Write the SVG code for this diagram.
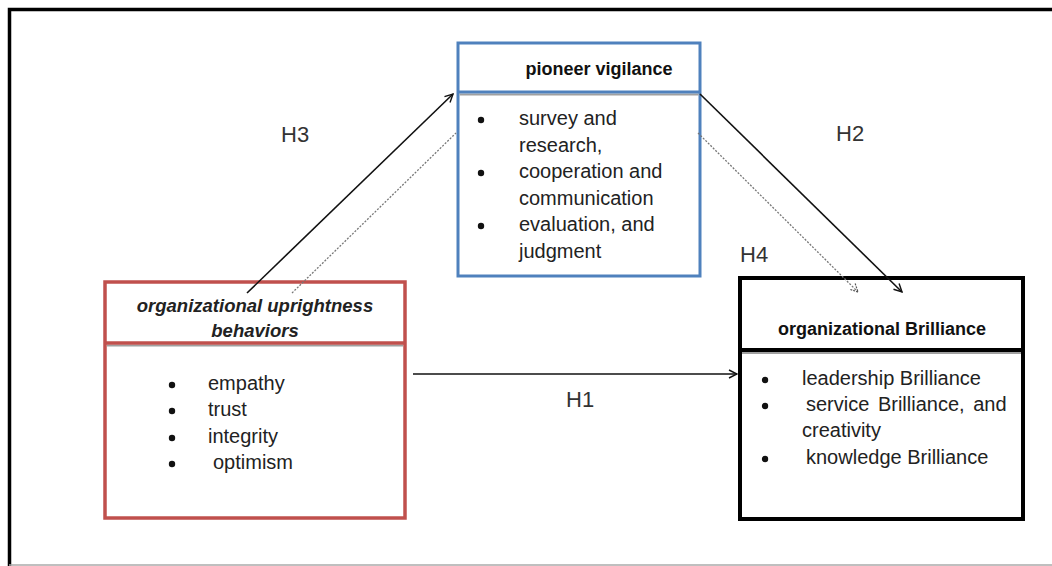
<svg xmlns="http://www.w3.org/2000/svg" width="1052" height="566" viewBox="0 0 1052 566">
<defs>
<style>
.t{font-family:"Liberation Sans",Arial,sans-serif;font-size:20px;fill:#222}
.h{font-family:"Liberation Sans",Arial,sans-serif;font-size:22px;fill:#333}
.b{font-family:"Liberation Sans",Arial,sans-serif;font-weight:bold;font-size:18px;fill:#111}
.bi{font-family:"Liberation Sans",Arial,sans-serif;font-weight:bold;font-style:italic;font-size:18.5px;fill:#222}
.box{fill:#fff}
.sh{stroke:#a0a0a0;stroke-width:2}
.dotb{fill:#111}
.solid{stroke:#111;stroke-width:1.6;fill:none}
.dot{stroke:#777;stroke-width:1.3;stroke-dasharray:2 1.5;fill:none}
</style>
<marker id="ah" viewBox="0 0 10 10" refX="9" refY="5" markerWidth="10" markerHeight="10" markerUnits="userSpaceOnUse" orient="auto">
<path d="M1,1 L9,5 L1,9" fill="none" stroke="#111" stroke-width="1.4"/>
</marker>
<marker id="ahd" viewBox="0 0 10 10" refX="9" refY="5" markerWidth="10" markerHeight="10" markerUnits="userSpaceOnUse" orient="auto">
<path d="M1,1 L9,5 L1,9" fill="none" stroke="#555" stroke-width="1.2" stroke-dasharray="2 1"/>
</marker>
</defs>
<rect width="1052" height="566" fill="#fff"/>
<g id="frame">
<path d="M9.5,566 V9.5 H1052" fill="none" stroke="#000" stroke-width="3.5"/>
<line x1="9" y1="565" x2="1052" y2="565" stroke="#aaa" stroke-width="1.5"/>
</g>

<g id="node-pioneer">
<rect class="box" x="458" y="43" width="242" height="233" stroke="#4f81bd" stroke-width="3"/>
<line class="sh" x1="459.5" y1="94.5" x2="698.5" y2="94.5"/>
<line x1="458" y1="92" x2="700" y2="92" stroke="#4f81bd" stroke-width="3"/>
<text class="b" x="599" y="75" text-anchor="middle">pioneer vigilance</text>
<circle class="dotb" cx="481" cy="120" r="3.2"/>
<circle class="dotb" cx="481" cy="173" r="3.2"/>
<circle class="dotb" cx="481" cy="226" r="3.2"/>
<text class="t" x="519" y="125">survey and</text>
<text class="t" x="519" y="152">research,</text>
<text class="t" x="519" y="178">cooperation and</text>
<text class="t" x="519" y="205">communication</text>
<text class="t" x="519" y="231">evaluation, and</text>
<text class="t" x="519" y="258">judgment</text>
</g>

<g id="node-upright">
<rect class="box" x="105" y="282" width="300" height="236" stroke="#c0504d" stroke-width="3.5"/>
<line class="sh" x1="107" y1="345.5" x2="403" y2="345.5"/>
<line x1="105" y1="343" x2="405" y2="343" stroke="#c0504d" stroke-width="3.5"/>
<text class="bi" x="255" y="312" text-anchor="middle">organizational uprightness</text>
<text class="bi" x="255" y="337" text-anchor="middle">behaviors</text>
<circle class="dotb" cx="172" cy="385" r="3.2"/>
<circle class="dotb" cx="172" cy="411" r="3.2"/>
<circle class="dotb" cx="172" cy="438" r="3.2"/>
<circle class="dotb" cx="172" cy="464" r="3.2"/>
<text class="t" x="208" y="390">empathy</text>
<text class="t" x="208" y="416">trust</text>
<text class="t" x="208" y="443">integrity</text>
<text class="t" x="213" y="469">optimism</text>
</g>

<g id="node-brilliance">
<rect class="box" x="740" y="278" width="283" height="241" stroke="#000" stroke-width="4"/>
<line class="sh" x1="742" y1="353" x2="1021" y2="353"/>
<line x1="740" y1="350" x2="1023" y2="350" stroke="#000" stroke-width="4"/>
<text class="b" x="882" y="335" text-anchor="middle">organizational Brilliance</text>
<circle class="dotb" cx="765" cy="380" r="3.2"/>
<circle class="dotb" cx="765" cy="406" r="3.2"/>
<circle class="dotb" cx="765" cy="459" r="3.2"/>
<text class="t" x="802" y="385">leadership Brilliance</text>
<text class="t" x="806" y="411" word-spacing="3">service Brilliance, and</text>
<text class="t" x="802" y="437">creativity</text>
<text class="t" x="806" y="464">knowledge Brilliance</text>
</g>

<g id="connectors">
<line class="solid" x1="247" y1="293" x2="453" y2="94" marker-end="url(#ah)"/>
<line class="dot" x1="292" y1="293" x2="456" y2="133"/>
<line class="solid" x1="700" y1="94" x2="902" y2="292" marker-end="url(#ah)"/>
<line class="dot" x1="698" y1="133" x2="858" y2="292" marker-end="url(#ahd)"/>
<line class="solid" x1="413" y1="374" x2="737" y2="374" marker-end="url(#ah)"/>
</g>

<g id="labels">
<text class="h" x="281" y="142">H3</text>
<text class="h" x="836" y="141">H2</text>
<text class="h" x="740" y="262">H4</text>
<text class="h" x="566" y="407">H1</text>
</g>
</svg>
